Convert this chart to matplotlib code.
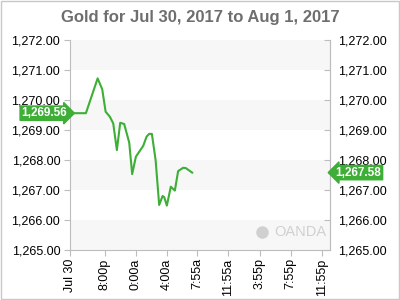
import matplotlib
matplotlib.use('Agg')
import matplotlib.pyplot as plt
from matplotlib.patches import Rectangle

plt.rcParams['font.family'] = ['Liberation Sans', 'DejaVu Sans']

# hours since Jul 30 00:00
hours = [16.0, 17.55, 19.06, 19.65, 20.09, 20.64, 21.07, 21.54, 21.97, 22.48,
         23.13, 23.51, 23.99, 24.93, 25.37, 25.70, 26.05, 26.53, 26.99, 27.43,
         27.64, 27.98, 28.49, 29.01, 29.43, 30.08, 30.42, 31.24]
price = [1269.56, 1269.56, 1270.72, 1270.36, 1269.61, 1269.44, 1269.22, 1268.33,
         1269.24, 1269.20, 1268.58, 1267.53, 1268.11, 1268.47, 1268.78, 1268.87,
         1268.87, 1268.00, 1266.50, 1266.80, 1266.76, 1266.48, 1267.11, 1266.98,
         1267.63, 1267.74, 1267.73, 1267.58]

tick_hours = [15.5, 20, 24, 28, 31.92, 35.92, 39.92, 43.92, 47.92]
tick_labels = ['Jul 30', '8:00p', '0:00a', '4:00a', '7:55a', '11:55a', '3:55p', '7:55p', '11:55p']
y_ticks = [1265, 1266, 1267, 1268, 1269, 1270, 1271, 1272]
first_price = 1269.56
last_price = 1267.58

green = '#3dae36'
grey_txt = '#6e6e6e'

fig = plt.figure(figsize=(4, 3), dpi=100)
fig.patch.set_facecolor('white')
fig.patches.append(Rectangle((0.002, 0.003), 0.996, 0.994, transform=fig.transFigure,
                             fill=False, edgecolor='#c8c8c8', linewidth=1))
ax = fig.add_axes([0.175, 0.1667, 0.65, 0.70])

# alternating bands
for lo in [1265, 1267, 1269, 1271]:
    ax.axhspan(lo, lo + 1, color='#f7f7f7', zorder=0, linewidth=0)

ax.plot(hours, price, color=green, linewidth=1.5, zorder=3)

ax.set_xlim(15.5, 49)
ax.set_ylim(1265, 1272)
ax.set_xticks(tick_hours)
ax.set_xticklabels(tick_labels, rotation=90, fontsize=9)
ax.set_yticks(y_ticks)
ax.set_yticklabels([f'{v:,.2f}' for v in y_ticks], fontsize=9)
ax.tick_params(axis='y', length=4, color='#bdbdbd', pad=3)
ax.tick_params(axis='x', length=4, color='#bdbdbd', pad=2)
for s in ['left', 'bottom', 'right']:
    ax.spines[s].set_color('#bdbdbd')
ax.spines['top'].set_visible(False)

sec = ax.secondary_yaxis('right')
sec.set_yticks(y_ticks)
sec.set_yticklabels([f'{v:,.2f}' for v in y_ticks], fontsize=9)
sec.tick_params(direction='in', length=4, color='#bdbdbd', pad=6)
sec.spines['right'].set_color('#bdbdbd')

ax.set_title('Gold for Jul 30, 2017 to Aug 1, 2017', fontsize=12, fontweight='bold',
             color=grey_txt, pad=13)

# current price flags
ax.text(-0.012, first_price, f'{first_price:,.2f}', transform=ax.get_yaxis_transform(),
        ha='right', va='center', fontsize=8.5, color='white', fontweight='bold', zorder=5,
        bbox=dict(boxstyle='rarrow,pad=0.1', facecolor=green, edgecolor=green),
        clip_on=False)
ax.text(1.022, last_price, f'{last_price:,.2f}', transform=ax.get_yaxis_transform(),
        ha='left', va='center', fontsize=8.5, color='white', fontweight='bold', zorder=5,
        bbox=dict(boxstyle='larrow,pad=0.1', facecolor=green, edgecolor=green),
        clip_on=False)

# watermark
ax.text(0.985, 0.05, 'OANDA', transform=ax.transAxes, ha='right', va='bottom',
        fontsize=10.5, color='#d0d0d0', zorder=2)
ax.plot([0.74], [0.088], transform=ax.transAxes, marker='o', markersize=8,
        color='#d0d0d0', zorder=2)

fig.savefig('out.png', dpi=100)
